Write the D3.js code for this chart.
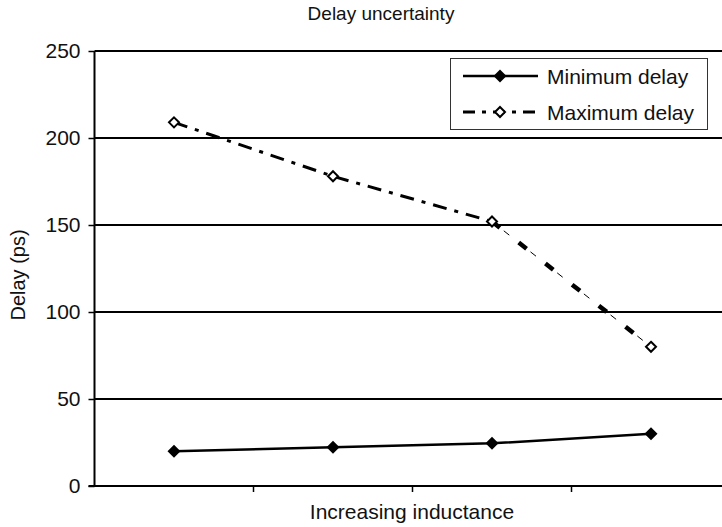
<!DOCTYPE html>
<html>
<head>
<meta charset="utf-8">
<script src="https://cdn.jsdelivr.net/npm/d3@7"></script>
<style>
  html, body { margin: 0; padding: 0; background: #fff; }
  svg { display: block; font-family: "Liberation Sans", Arial, Helvetica, sans-serif; }
</style>
</head>
<body>
<svg id="chart" width="722" height="527"></svg>
<script>
// Inductance steps (unlabelled on the axis) and delay values in ps
const categories = ["L1", "L2", "L3", "L4"];
const minDelay = [20, 22.3, 24.5, 30];
const maxDelay = [209, 178, 152, 80];
const yTicks = [0, 50, 100, 150, 200, 250];
const titleText = "Delay uncertainty";
const xTitleText = "Increasing inductance";
const yTitleText = "Delay (ps)";
const seriesNames = ["Minimum delay", "Maximum delay"];

const svg = d3.select("#chart");
const W = 722;
const plotLeft = 94.5, step = 159, plotTop = 51, plotBottom = 486;

const x = d3.scaleBand()
  .domain(categories)
  .range([plotLeft, plotLeft + step * categories.length])
  .paddingInner(0).paddingOuter(0);
const cx = d => x(d) + x.bandwidth() / 2;

const y = d3.scaleLinear().domain([0, 250]).range([plotBottom, plotTop]);

// Horizontal gridlines running out to the right edge
svg.append("g")
  .selectAll("line")
  .data(yTicks.filter(t => t > 0))
  .join("line")
  .attr("x1", plotLeft).attr("x2", W)
  .attr("y1", d => y(d)).attr("y2", d => y(d))
  .attr("stroke", "#000").attr("stroke-width", 2);

// Y axis
const yAxis = d3.axisLeft(y).tickValues(yTicks).tickSize(6).tickPadding(8).tickFormat(d3.format("d"));
const gy = svg.append("g").attr("transform", `translate(${plotLeft},0)`).call(yAxis);
gy.select(".domain").remove();
gy.selectAll(".tick line").attr("stroke", "#000").attr("stroke-width", 1.5);
gy.selectAll(".tick text").attr("font-size", 21).attr("fill", "#111")
  .attr("font-family", "Liberation Sans, Arial, sans-serif");
svg.append("line")
  .attr("x1", plotLeft).attr("x2", plotLeft).attr("y1", y(250)).attr("y2", plotBottom + 1)
  .attr("stroke", "#000").attr("stroke-width", 2);

// X axis: ticks on category boundaries, no labels
const boundaries = categories.slice(1);
svg.append("line")
  .attr("x1", plotLeft - 6).attr("x2", W).attr("y1", plotBottom).attr("y2", plotBottom)
  .attr("stroke", "#000").attr("stroke-width", 2);
svg.append("g").selectAll("line")
  .data(boundaries)
  .join("line")
  .attr("x1", d => x(d)).attr("x2", d => x(d))
  .attr("y1", plotBottom).attr("y2", plotBottom + 6)
  .attr("stroke", "#000").attr("stroke-width", 1.5);

// Titles
svg.append("text").attr("x", 381).attr("y", 20).attr("text-anchor", "middle")
  .attr("font-size", 19).attr("fill", "#111").text(titleText);
svg.append("text").attr("x", 412).attr("y", 519).attr("text-anchor", "middle")
  .attr("font-size", 21).attr("fill", "#111").text(xTitleText);
svg.append("text").attr("transform", "translate(25,275) rotate(-90)")
  .attr("text-anchor", "middle").attr("font-size", 20).attr("fill", "#111").text(yTitleText);

const diamond = r => `M0,${-r}L${r},0L0,${r}L${-r},0Z`;

// Maximum delay: dash-dot for the first two segments
const maxPts = categories.map((c, i) => [cx(c), y(maxDelay[i])]);
const line = d3.line();
svg.append("path")
  .attr("d", line(maxPts.slice(0, 3)))
  .attr("fill", "none").attr("stroke", "#000").attr("stroke-width", 3)
  .attr("stroke-dasharray", "14,8,4,8");
// last segment: heavy dashes alternating with hairline dashes
const lastSeg = maxPts.slice(2, 4);
svg.append("path")
  .attr("d", line(lastSeg))
  .attr("fill", "none").attr("stroke", "#000").attr("stroke-width", 4.5)
  .attr("stroke-dasharray", "10,24");
svg.append("path")
  .attr("d", line(lastSeg))
  .attr("fill", "none").attr("stroke", "#000").attr("stroke-width", 1)
  .attr("stroke-dasharray", "0,15,7,12");

// Minimum delay: solid line
const minPts = categories.map((c, i) => [cx(c), y(minDelay[i])]);
svg.append("path")
  .attr("d", line(minPts))
  .attr("fill", "none").attr("stroke", "#000").attr("stroke-width", 2.5);

// Markers
svg.append("g").selectAll("path")
  .data(minPts)
  .join("path")
  .attr("transform", d => `translate(${d[0]},${d[1]})`)
  .attr("d", diamond(6.5)).attr("fill", "#000");
svg.append("g").selectAll("path")
  .data(maxPts)
  .join("path")
  .attr("transform", d => `translate(${d[0]},${d[1]})`)
  .attr("d", diamond(5)).attr("fill", "#fff").attr("stroke", "#000").attr("stroke-width", 2);

// Legend
const lg = svg.append("g");
lg.append("rect").attr("x", 450.5).attr("y", 58.5).attr("width", 257).attr("height", 71)
  .attr("fill", "#fff").attr("stroke", "#333").attr("stroke-width", 1);
const rows = [
  { name: seriesNames[0], y: 76, kind: "min" },
  { name: seriesNames[1], y: 112, kind: "max" }
];
rows.forEach(r => {
  if (r.kind === "min") {
    lg.append("line").attr("x1", 463).attr("x2", 538).attr("y1", r.y).attr("y2", r.y)
      .attr("stroke", "#000").attr("stroke-width", 2.5);
    lg.append("path").attr("transform", `translate(500,${r.y})`).attr("d", diamond(6.5)).attr("fill", "#000");
  } else {
    lg.append("line").attr("x1", 463).attr("x2", 538).attr("y1", r.y).attr("y2", r.y)
      .attr("stroke", "#000").attr("stroke-width", 3).attr("stroke-dasharray", "12,7,4,7");
    lg.append("path").attr("transform", `translate(500,${r.y})`).attr("d", diamond(5))
      .attr("fill", "#fff").attr("stroke", "#000").attr("stroke-width", 2);
  }
  lg.append("text").attr("x", 547).attr("y", r.y + 7.5).attr("font-size", 21).attr("fill", "#111").text(r.name);
});
</script>
</body>
</html>
